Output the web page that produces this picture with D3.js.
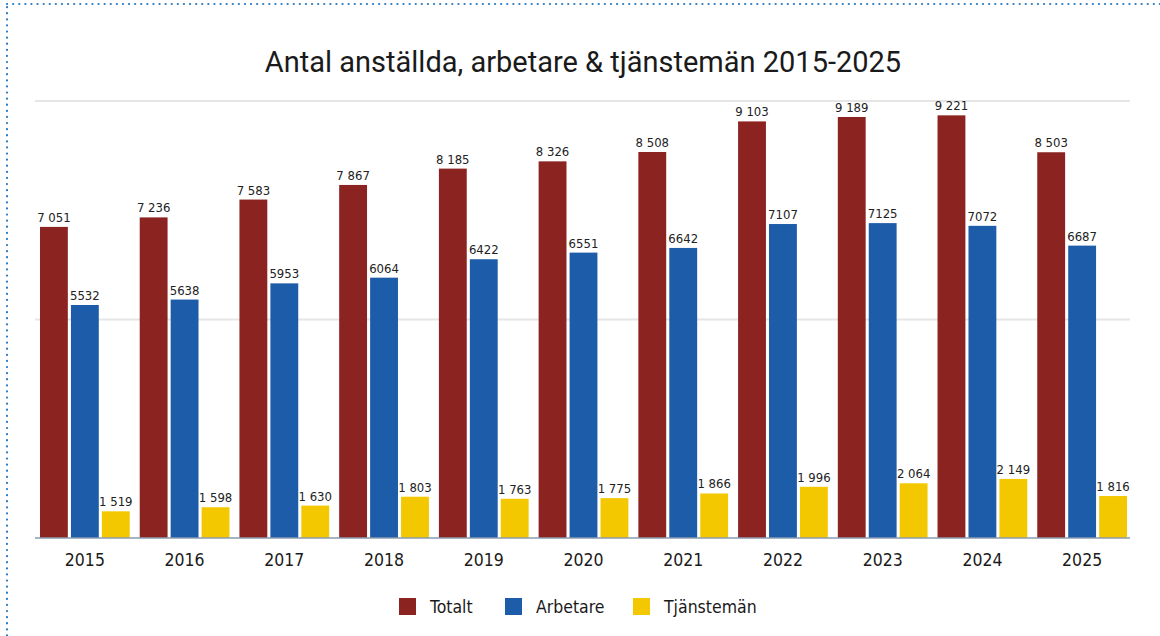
<!DOCTYPE html>
<html>
<head>
<meta charset="utf-8">
<script src="https://cdn.jsdelivr.net/npm/d3@7"></script>
<style>
  body { margin: 0; background: #fff; }
  svg { display: block; }
</style>
</head>
<body>
<svg id="chart" width="1160" height="636"></svg>
<script>
// data
var years = ["2015", "2016", "2017", "2018", "2019", "2020", "2021", "2022", "2023", "2024", "2025"];
var series = ["Totalt", "Arbetare", "Tjänstemän"];
var totalt = [7051, 7236, 7583, 7867, 8185, 8326, 8508, 9103, 9189, 9221, 8503];
var arbetare = [5532, 5638, 5953, 6064, 6422, 6551, 6642, 7107, 7125, 7072, 6687];
var tjanstemen = [1519, 1598, 1630, 1803, 1763, 1775, 1866, 1996, 2064, 2149, 1816];
var colors = ["#8b2421", "#1d5ca8", "#f3c800"];
var yTicks = [1000, 5250, 9500];

var svg = d3.select("#chart");
var width = 1160, height = 636;

var table = years.map(function(y, i) {
  return { year: y, values: [totalt[i], arbetare[i], tjanstemen[i]] };
});

// dotted frame
svg.append("rect")
  .attr("x", 7).attr("y", 4)
  .attr("width", 1300).attr("height", 800)
  .attr("fill", "none")
  .attr("stroke", "#2a7bc4")
  .attr("stroke-width", 2.2)
  .attr("stroke-linecap", "round")
  .attr("stroke-dasharray", "0.1,6");

// title
svg.append("text")
  .attr("x", 583)
  .attr("y", 72)
  .attr("text-anchor", "middle")
  .style("font-family", "Roboto, sans-serif")
  .style("font-size", "29px")
  .attr("fill", "#1a1a1a")
  .text("Antal anställda, arbetare & tjänstemän 2015-2025");

// scales
var x = d3.scaleBand()
  .domain(years)
  .range([35, 1132])
  .paddingInner(0.1)
  .paddingOuter(0.05);

var xs = d3.scaleBand()
  .domain(series)
  .range([0, x.bandwidth()])
  .paddingInner(0.1);

var y = d3.scaleLinear()
  .domain([1000, 9500])
  .range([538, 101]);

// grid
svg.append("g")
  .selectAll("line")
  .data(yTicks.slice(1))
  .enter()
  .append("line")
    .attr("x1", 35).attr("x2", 1130)
    .attr("y1", function(d) { return y(d) })
    .attr("y2", function(d) { return y(d) })
    .attr("stroke", "#e6e6e6")
    .attr("stroke-width", 2);

// bars
var groups = svg.append("g")
  .selectAll("g")
  .data(table)
  .enter()
  .append("g")
    .attr("transform", function(d) { return "translate(" + x(d.year) + ",0)" });

groups.selectAll("rect")
  .data(function(d) { return d.values })
  .enter()
  .append("rect")
    .attr("x", function(d, i) { return xs(series[i]) })
    .attr("y", function(d) { return y(d) })
    .attr("width", xs.bandwidth())
    .attr("height", function(d) { return y(1000) - y(d) })
    .attr("fill", function(d, i) { return colors[i] });

var spaced = function(v) { return d3.format(",")(v).replace(",", " ") };

groups.selectAll("text")
  .data(function(d) { return d.values })
  .enter()
  .append("text")
    .attr("x", function(d, i) { return xs(series[i]) + xs.bandwidth() / 2 })
    .attr("y", function(d) { return y(d) - 5 })
    .attr("text-anchor", "middle")
    .style("font-family", "'DejaVu Sans Condensed', 'Liberation Sans Narrow', sans-serif")
    .style("font-size", "13px")
    .attr("fill", "#222")
    .text(function(d, i) { return i == 1 ? d : spaced(d) });

// x axis
var xAxis = svg.append("g")
  .attr("transform", "translate(0,538)")
  .call(d3.axisBottom(x).tickSize(0).tickPadding(16));
xAxis.select(".domain")
  .attr("d", "M35,0H1130")
  .attr("stroke", "#8a9bb0")
  .attr("stroke-width", 1.5);
xAxis.selectAll("text")
  .style("font-family", "'DejaVu Sans Condensed', sans-serif")
  .style("font-size", "17.5px")
  .attr("fill", "#1a1a1a");

// legend
var legendX = [399, 505, 633];
var legend = svg.append("g")
  .selectAll("g")
  .data(series)
  .enter()
  .append("g")
    .attr("transform", function(d, i) { return "translate(" + legendX[i] + ",598)" });

legend.append("rect")
  .attr("width", 17).attr("height", 17)
  .attr("fill", function(d, i) { return colors[i] });

legend.append("text")
  .attr("x", 31)
  .attr("y", 15)
  .style("font-family", "'DejaVu Sans Condensed', sans-serif")
  .style("font-size", "17.5px")
  .attr("fill", "#1a1a1a")
  .text(function(d) { return d });
</script>
</body>
</html>
